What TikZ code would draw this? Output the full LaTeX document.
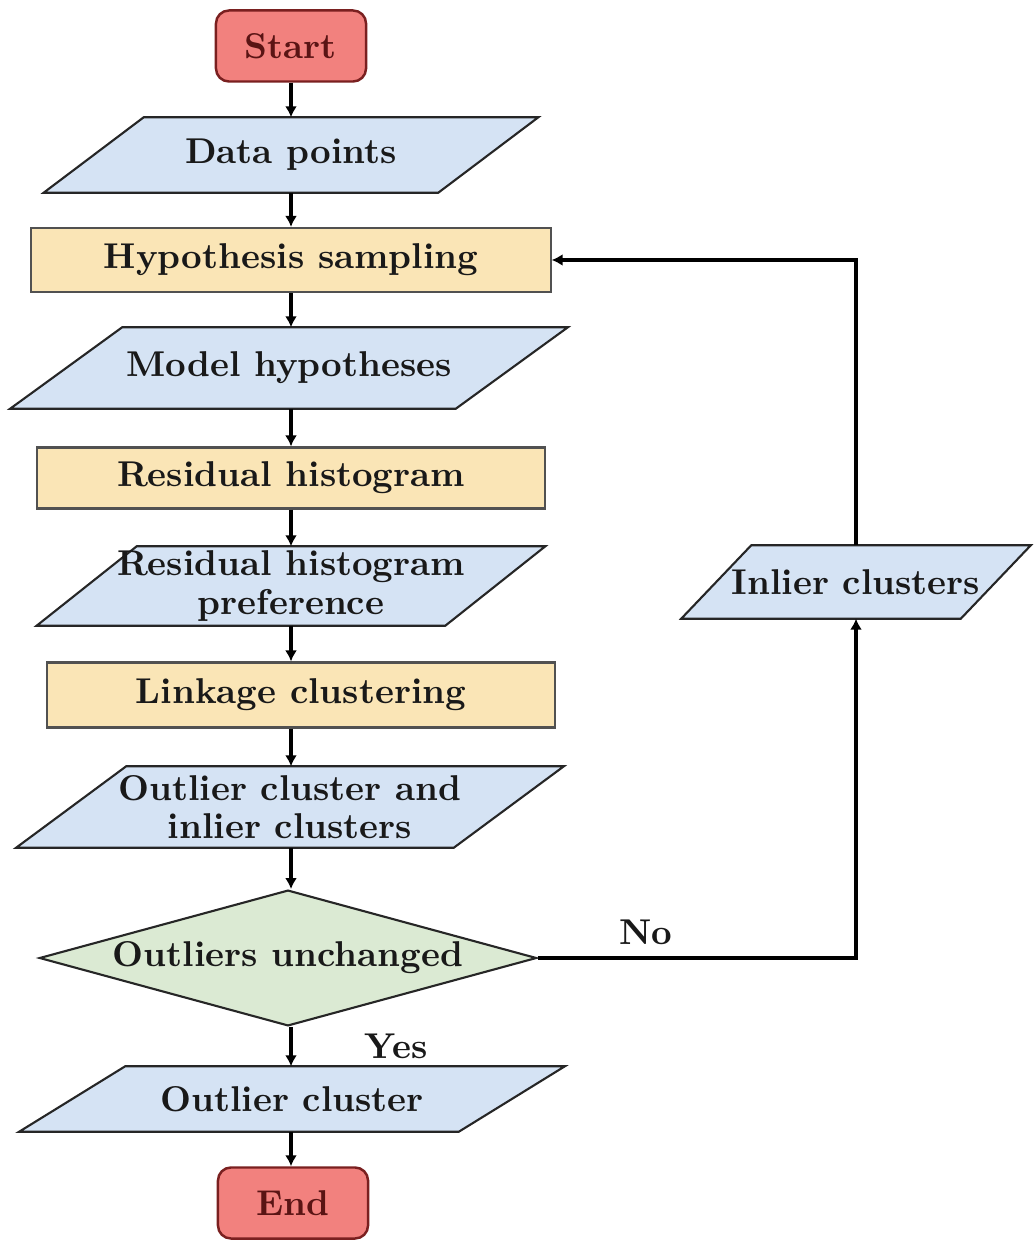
\documentclass[tikz,border=0pt]{standalone}
\usetikzlibrary{shapes.geometric,arrows.meta,backgrounds}

\definecolor{termfill}{HTML}{F2817E}
\definecolor{termline}{HTML}{7A2020}
\definecolor{termtext}{HTML}{5A1414}
\definecolor{iofill}{HTML}{D5E3F4}
\definecolor{procfill}{HTML}{FAE5B6}
\definecolor{decfill}{HTML}{DBEAD3}
\definecolor{inkline}{HTML}{262626}

\begin{document}
\begin{tikzpicture}[x=0.01cm, y=-0.01cm, font=\fontsize{10.2}{11}\selectfont\bfseries, text=black!90,
  term/.style={rectangle, rounded corners=.13cm, draw=termline, fill=termfill, text=termtext, line width=.7pt, minimum width=1.5cm, minimum height=.71cm},
  io/.style={rectangle, align=center, inner sep=1pt},
  iobox/.style={draw=inkline, fill=iofill, line width=.6pt, line join=miter},
  proc/.style={rectangle, draw=inkline!80, fill=procfill, line width=.6pt},
  dec/.style={diamond, aspect=3.38, draw=inkline, fill=decfill, line width=.6pt, minimum width=4.97cm, inner sep=0pt},
  arr/.style={-{Latex[length=1.1mm,width=1.2mm]}, line width=.9pt}]
	\useasboundingbox (0,0) rectangle (1035,1240);

	\node[term] (start) at (291,46) {Start};
	\node[io, minimum width=3.93cm, minimum height=.74cm] (data) at (291,155) {Data points};
	\node[proc, minimum width=5.19cm, minimum height=.64cm] (hyp) at (291,260) {Hypothesis sampling};
	\node[io, minimum width=4.44cm, minimum height=.8cm] (model) at (289,368) {Model hypotheses};
	\node[proc, minimum width=5.08cm, minimum height=.61cm] (res) at (291,478) {Residual histogram};
	\node[io, minimum width=4.07cm, minimum height=.78cm] (pref) at (291,586) {Residual histogram\\preference};
	\node[proc, minimum width=5.08cm, minimum height=.65cm] (link) at (301,695) {Linkage clustering};
	\node[io, minimum width=4.36cm, minimum height=.8cm] (clus) at (290,807) {Outlier cluster and\\inlier clusters};
	\node[dec] (unch) at (288,958) {Outliers unchanged};
	\node[io, minimum width=4.38cm, minimum height=.64cm] (outc) at (292,1099) {Outlier cluster};
	\node[term] (end) at (293,1203) {End};
	\node[io, minimum width=2.78cm, minimum height=.72cm] (inl) at (856,582) {Inlier clusters};

	% slanted boxes behind the texts
	\begin{scope}[on background layer]
		\draw[iobox] ([xshift=.5cm]data.north west) -- ([xshift=.5cm]data.north east) -- ([xshift=-.5cm]data.south east) -- ([xshift=-.5cm]data.south west) -- cycle;
		\draw[iobox] ([xshift=.56cm]model.north west) -- ([xshift=.56cm]model.north east) -- ([xshift=-.56cm]model.south east) -- ([xshift=-.56cm]model.south west) -- cycle;
		\draw[iobox] ([xshift=.5cm]pref.north west) -- ([xshift=.5cm]pref.north east) -- ([xshift=-.5cm]pref.south east) -- ([xshift=-.5cm]pref.south west) -- cycle;
		\draw[iobox] ([xshift=.55cm]clus.north west) -- ([xshift=.55cm]clus.north east) -- ([xshift=-.55cm]clus.south east) -- ([xshift=-.55cm]clus.south west) -- cycle;
		\draw[iobox] ([xshift=.53cm]outc.north west) -- ([xshift=.53cm]outc.north east) -- ([xshift=-.53cm]outc.south east) -- ([xshift=-.53cm]outc.south west) -- cycle;
		\draw[iobox] ([xshift=.35cm]inl.north west) -- ([xshift=.35cm]inl.north east) -- ([xshift=-.35cm]inl.south east) -- ([xshift=-.35cm]inl.south west) -- cycle;
	\end{scope}

	\draw[arr] (start) -- (start |- data.north);
	\draw[arr] (data) -- (data |- hyp.north);
	\draw[arr] (hyp) -- (hyp |- model.north);
	\draw[arr] (model.south -| hyp) -- (hyp |- res.north);
	\draw[arr] (res) -- (res |- pref.north);
	\draw[arr] (pref) -- (pref |- link.north);
	\draw[arr] (link.south -| pref) -- (pref |- clus.north);
	\draw[arr] (clus.south -| pref) -- (pref |- unch.north);
	\draw[arr] (unch.south -| pref) -- node[right=.6cm] {Yes} (pref |- outc.north);
	\draw[arr] (outc.south -| pref) -- (pref |- end.north);
	\draw[arr] (unch.east) -| node[pos=.17, above] {No} (inl);
	\draw[arr] (inl) |- (hyp);
\end{tikzpicture}
\end{document}
